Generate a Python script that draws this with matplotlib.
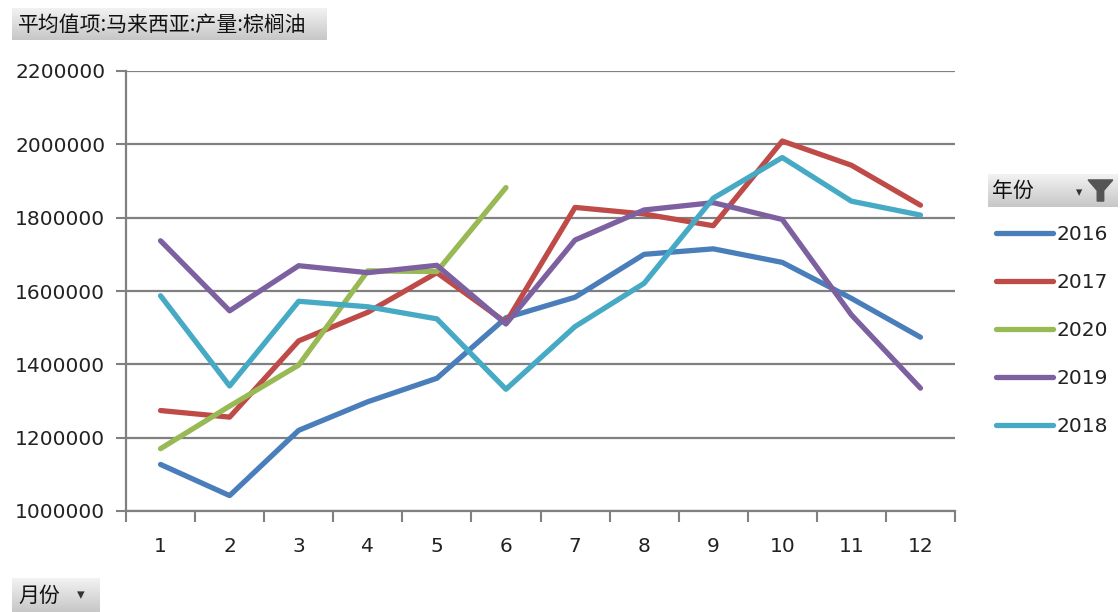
import numpy as np
import matplotlib
matplotlib.use("Agg")
import matplotlib.pyplot as plt
from matplotlib.patches import Polygon

plt.rcParams['font.family'] = ['Noto Sans CJK SC', 'DejaVu Sans']

months = list(range(1, 13))
month_labels = [str(m) for m in months]
years = ['2016', '2017', '2020', '2019', '2018']
v2016 = [1127000, 1042000, 1220000, 1298000, 1362000, 1527000, 1583000, 1700000, 1715000, 1678000, 1580000, 1474000]
v2017 = [1274000, 1256000, 1464000, 1542000, 1650000, 1514000, 1828000, 1810000, 1778000, 2009000, 1943000, 1834000]
v2020 = [1170000, 1286000, 1398000, 1655000, 1653000, 1882000]
v2019 = [1737000, 1546000, 1669000, 1650000, 1670000, 1510000, 1739000, 1821000, 1841000, 1795000, 1535000, 1335000]
v2018 = [1587000, 1341000, 1572000, 1557000, 1524000, 1332000, 1503000, 1621000, 1853000, 1964000, 1845000, 1807000]
series = [v2016, v2017, v2020, v2019, v2018]
colors = ['#4A7EBB', '#BE4B48', '#98B954', '#7D60A0', '#46AAC5']

W, H = 1120, 612
fig = plt.figure(figsize=(W / 100, H / 100), dpi=100)
ax = fig.add_axes([126 / W, 1 - 511 / H, (955 - 126) / W, (511 - 71) / H])

for vals, c, y in zip(series, colors, years):
    ax.plot(months[:len(vals)], vals, color=c, lw=3.8, label=y, solid_capstyle='round')

ax.set_ylim(1000000, 2200000)
ax.set_yticks(np.arange(1000000, 2200001, 200000))
ax.set_yticklabels([str(v) for v in range(1000000, 2200001, 200000)], family='DejaVu Sans')
ax.set_xlim(0.5, 12.5)
ax.set_xticks(np.arange(0.5, 12.6, 1))
ax.set_xticklabels([])
ax.set_xticks(months, minor=True)
ax.set_xticklabels(month_labels, minor=True, family='DejaVu Sans')
ax.tick_params(axis='x', which='major', length=8, width=1.5, color='#808080', direction='out')
ax.tick_params(axis='x', which='minor', length=0, pad=19, labelsize=14.5, labelcolor='#222222')
ax.tick_params(axis='y', length=7, width=1.5, color='#808080', pad=8, labelsize=14.5, labelcolor='#222222')
ax.grid(axis='y', color='#808080', lw=1.6)
ax.set_axisbelow(True)
for s in ['top', 'right']:
    ax.spines[s].set_visible(False)
for s in ['left', 'bottom']:
    ax.spines[s].set_color('#808080')
    ax.spines[s].set_linewidth(1.6)

# legend
leg = ax.legend(loc='upper left', bbox_to_anchor=(978 / W, 1 - 207 / H), bbox_transform=fig.transFigure,
                frameon=False, handlelength=2.8, handletextpad=0.2, labelspacing=1.44,
                prop={'family': 'DejaVu Sans', 'size': 14.5})
for t in leg.get_texts():
    t.set_color('#222222')


def button(x0, y0, x1, y1, text, tx, fs):
    bax = fig.add_axes([x0 / W, 1 - y1 / H, (x1 - x0) / W, (y1 - y0) / H])
    grad = np.linspace(0.95, 0.78, 50).reshape(-1, 1)
    bax.imshow(np.dstack([grad, grad, grad]), aspect='auto', extent=[0, 1, 0, 1], origin='upper')
    bax.set_xlim(0, 1)
    bax.set_ylim(0, 1)
    bax.axis('off')
    bax.text(tx, 0.48, text, fontsize=fs, va='center', ha='left', color='#111111')
    return bax


button(12, 8, 327, 40, '平均值项:马来西亚:产量:棕榈油', 0.02, 15)
bx = button(988, 174, 1118, 207, '年份', 0.03, 15)
bx.text(0.7, 0.42, '▾', fontsize=9, va='center', ha='center', color='#333333', family='DejaVu Sans')
bx.add_patch(Polygon([[0.77, 0.82], [0.96, 0.82], [0.89, 0.5], [0.89, 0.18], [0.84, 0.18], [0.84, 0.5]],
                     closed=True, color='#555555'))
mb = button(12, 578, 100, 612, '月份', 0.07, 15)
mb.text(0.78, 0.5, '▾', fontsize=11, va='center', ha='center', color='#333333', family='DejaVu Sans')

fig.savefig('out.png', dpi=100)
